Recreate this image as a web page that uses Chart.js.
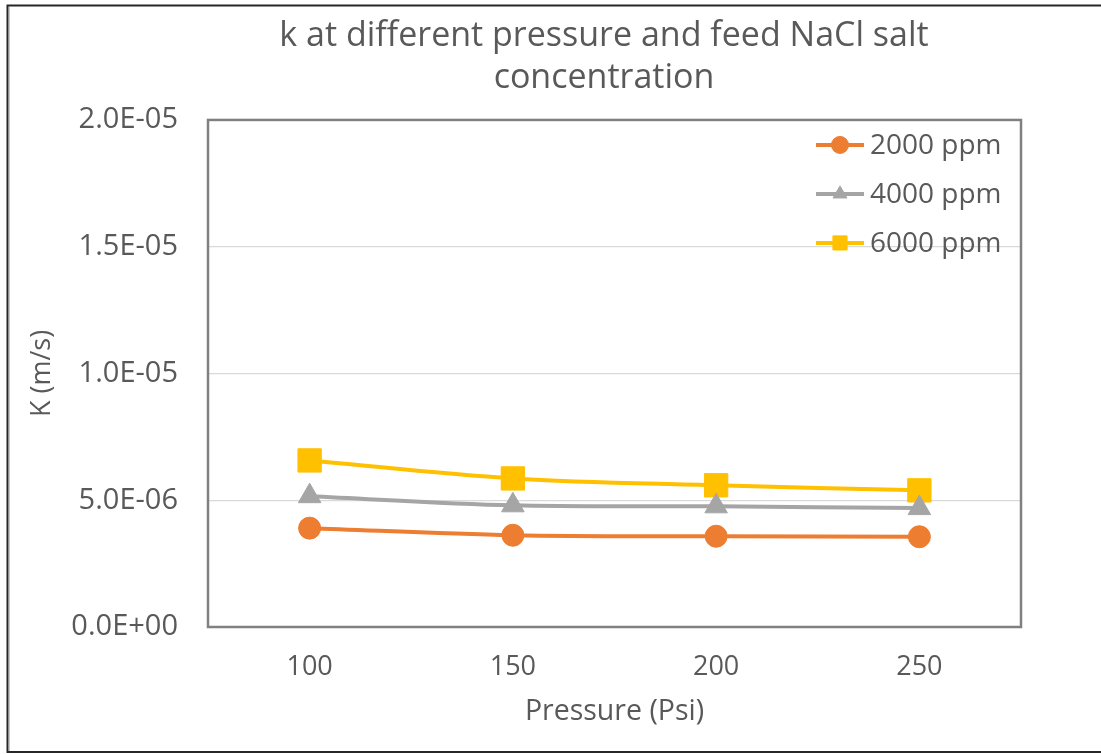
<!DOCTYPE html>
<html>
<head>
<meta charset="utf-8">
<script src="https://cdn.jsdelivr.net/npm/chart.js@4/dist/chart.umd.min.js"></script>
<style>
  html, body { margin: 0; padding: 0; background: #ffffff; }
  #wrap { width: 1101px; height: 754px; position: relative; }
</style>
</head>
<body>
<div id="wrap"><canvas id="c" width="1101" height="754"></canvas></div>
<script>
// Mass transfer coefficient k (m/s) vs. applied pressure, per feed concentration
const pressures = ['100', '150', '200', '250'];
const k2000 = [3.90e-6, 3.62e-6, 3.58e-6, 3.56e-6];
const k4000 = [5.16e-6, 4.80e-6, 4.76e-6, 4.69e-6];
const k6000 = [6.57e-6, 5.86e-6, 5.59e-6, 5.39e-6];
const seriesNames = ['2000 ppm', '4000 ppm', '6000 ppm'];
const titleLines = ['k at different pressure and feed NaCl salt', 'concentration'];
const xTitle = 'Pressure (Psi)';
const yTitle = 'K (m/s)';
const yMin = 0, yMax = 2.0e-5, yStep = 5.0e-6;

const TEXT = '#595959';
const FONT = '"Open Sans", "Noto Sans", sans-serif';

// "2.0E-05" style labels
function sci(v) {
  const parts = Number(v).toExponential(1).split('e');
  const n = parseInt(parts[1], 10);
  return parts[0] + 'E' + (n < 0 ? '-' : '+') + String(Math.abs(n)).padStart(2, '0');
}

// white page with a dark frame on the left, top and bottom
const pageFrame = {
  id: 'pageFrame',
  beforeDraw(chart) {
    const ctx = chart.ctx;
    ctx.save();
    ctx.fillStyle = '#ffffff';
    ctx.fillRect(0, 0, chart.width, chart.height);
    ctx.strokeStyle = '#262626';
    ctx.lineWidth = 2;
    ctx.beginPath();
    ctx.moveTo(chart.width, 5.5);
    ctx.lineTo(7.5, 5.5);
    ctx.lineTo(7.5, 752);
    ctx.lineTo(chart.width, 752);
    ctx.stroke();
    ctx.strokeStyle = '#c8c8c8';
    ctx.lineWidth = 1;
    ctx.beginPath();
    ctx.moveTo(9.5, 7);
    ctx.lineTo(9.5, 751);
    ctx.stroke();
    ctx.restore();
  }
};

// plot area outline
const plotBorder = {
  id: 'plotBorder',
  beforeDatasetsDraw(chart) {
    const { ctx, chartArea: a } = chart;
    ctx.save();
    ctx.strokeStyle = '#808080';
    ctx.lineWidth = 2.5;
    ctx.strokeRect(a.left, a.top, a.right - a.left, a.bottom - a.top);
    ctx.restore();
  }
};

// keep the two-line title centred over the plot region
const titleCentre = {
  id: 'titleCentre',
  afterLayout(chart) {
    if (chart.titleBlock) {
      chart.titleBlock.left = 187;
      chart.titleBlock.right = chart.chartArea.right;
    }
  }
};

// legend inside the plot, top-right, with line + marker samples
const legendRadius = [8.5, 8, 10];
const insetLegend = {
  id: 'insetLegend',
  afterDatasetsDraw(chart) {
    const { ctx, chartArea: a } = chart;
    chart.data.datasets.forEach((ds, i) => {
      const y = a.top + 25 + i * 49;
      const x0 = a.right - 205, x1 = a.right - 157;
      ctx.save();
      ctx.strokeStyle = ds.borderColor;
      ctx.lineWidth = 4;
      ctx.beginPath();
      ctx.moveTo(x0, y);
      ctx.lineTo(x1, y);
      ctx.stroke();
      ctx.fillStyle = ds.pointBackgroundColor;
      ctx.strokeStyle = ds.pointBorderColor;
      ctx.lineWidth = 1;
      Chart.helpers.drawPoint(ctx, { pointStyle: ds.pointStyle, radius: legendRadius[i], borderWidth: 1, rotation: 0 }, (x0 + x1) / 2, y);
      ctx.fillStyle = TEXT;
      ctx.font = '28px ' + FONT;
      ctx.textBaseline = 'middle';
      ctx.textAlign = 'left';
      ctx.fillText(ds.label, a.right - 151, y + 1);
      ctx.restore();
    });
  }
};

function series(label, data, color, style, radius) {
  return {
    label: label,
    data: data,
    borderColor: color,
    backgroundColor: color,
    borderWidth: 4,
    pointStyle: style,
    pointRadius: radius,
    pointHoverRadius: radius,
    pointBackgroundColor: color,
    pointBorderColor: color,
    pointBorderWidth: 1,
    tension: 0.35,
    fill: false
  };
}

new Chart(document.getElementById('c'), {
  type: 'line',
  data: {
    labels: pressures,
    datasets: [
      series(seriesNames[0], k2000, '#ED7D31', 'circle', 11),
      series(seriesNames[1], k4000, '#A5A5A5', 'triangle', 13),
      series(seriesNames[2], k6000, '#FFC000', 'rect', 16.5)
    ]
  },
  options: {
    responsive: false,
    devicePixelRatio: 1,
    animation: false,
    events: [],
    layout: { padding: { left: 8, right: 80, top: 0, bottom: 0 } },
    plugins: {
      legend: { display: false },
      tooltip: { enabled: false },
      title: {
        display: true,
        text: titleLines,
        color: TEXT,
        font: { family: FONT, size: 34, weight: 'normal', lineHeight: 1.22 },
        padding: { top: 16, bottom: 21 }
      }
    },
    scales: {
      x: {
        type: 'category',
        offset: true,
        grid: { display: false, drawTicks: false },
        border: { display: false },
        ticks: { color: TEXT, font: { family: FONT, size: 27 }, padding: 24 },
        title: {
          display: true, text: xTitle, color: TEXT,
          font: { family: FONT, size: 28.5, lineHeight: 1.2 },
          padding: { top: 0, bottom: 25 }
        },
        afterFit(scale) { scale.height = 127; }
      },
      y: {
        min: yMin,
        max: yMax,
        grid: { color: '#d9d9d9', lineWidth: 1.2, drawTicks: false },
        border: { display: false },
        ticks: {
          stepSize: yStep,
          color: TEXT,
          font: { family: FONT, size: 29 },
          padding: 30,
          callback: (v) => sci(v)
        },
        title: {
          display: true, text: yTitle, color: TEXT,
          font: { family: FONT, size: 27, lineHeight: 1.2 },
          padding: { top: 18, bottom: 0 }
        },
        afterFit(scale) { scale.width = 200; }
      }
    }
  },
  plugins: [pageFrame, plotBorder, titleCentre, insetLegend]
});
</script>
</body>
</html>
